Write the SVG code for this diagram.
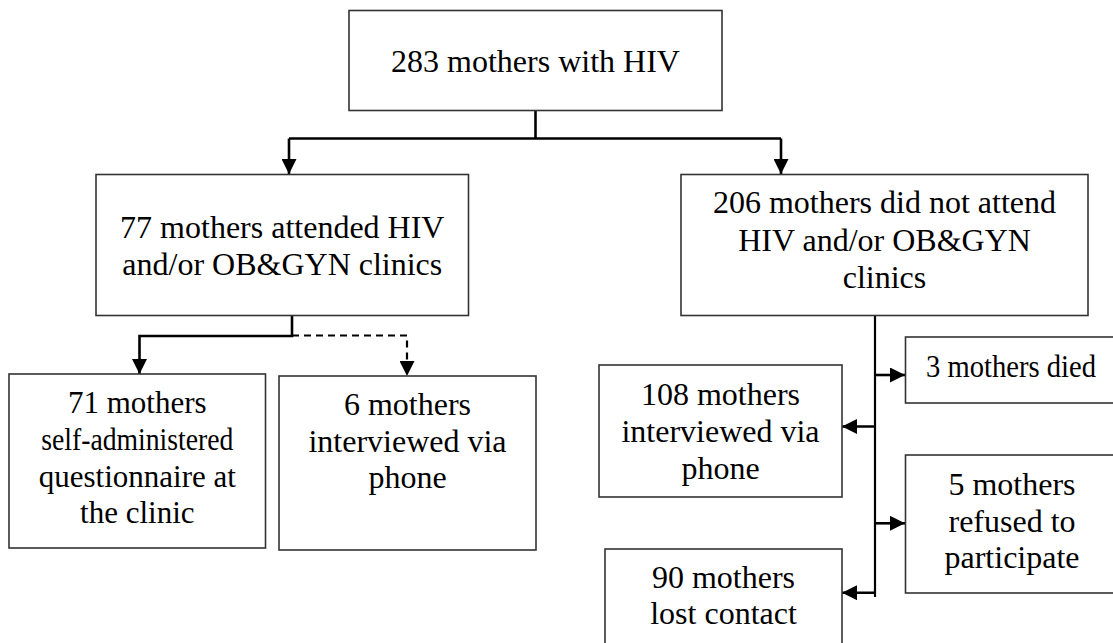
<svg xmlns="http://www.w3.org/2000/svg" width="1113" height="643" viewBox="0 0 1113 643">
<style>
.box{fill:#fff;stroke:#333;stroke-width:1.6}
.t{font-family:'Liberation Serif',Tinos,'Times New Roman','DejaVu Serif',serif;font-size:32px;fill:#000;text-anchor:middle}
.c{fill:none;stroke:#000;stroke-width:2.6}
.d{fill:none;stroke:#000;stroke-width:2.2;stroke-dasharray:7 5}
</style>
<defs>
<marker id="ah" viewBox="0 0 15 15" refX="15" refY="7.5" markerWidth="15" markerHeight="15" markerUnits="userSpaceOnUse" orient="auto">
<path d="M0,0 L15,7.5 L0,15 Z" fill="#000"/>
</marker>
</defs>
<rect width="1113" height="643" fill="#fff"/>
<g id="connectors">
<path class="c" d="M535.5,110.5 V138.5"/>
<path class="c" d="M289,138.5 H781"/>
<path class="c" d="M289,138.5 V174" marker-end="url(#ah)"/>
<path class="c" d="M781,138.5 V174" marker-end="url(#ah)"/>
<path class="c" d="M292,315.5 V336 H139.5 V374" marker-end="url(#ah)"/>
<path class="d" d="M292,335.5 H407 V376" marker-end="url(#ah)"/>
<path class="c" d="M875,315.5 V597" style="stroke-width:2.2"/>
<path class="c" d="M875,375 H905" marker-end="url(#ah)"/>
<path class="c" d="M875,426.5 H842" marker-end="url(#ah)"/>
<path class="c" d="M875,523.3 H905" marker-end="url(#ah)"/>
<path class="c" d="M875,592.7 H842" marker-end="url(#ah)"/>
</g>
<g font-family="Liberation Serif, serif">
<g id="n-total">
<rect class="box" x="349" y="10.5" width="373" height="100"/>
<text class="t" x="535.5" y="71.7">283 mothers with HIV</text>
</g>
<g id="n-attended">
<rect class="box" x="96" y="174.5" width="372.5" height="141"/>
<text class="t" x="282.3" y="237.7">77 mothers attended HIV</text>
<text class="t" x="282.3" y="275">and/or OB&amp;GYN clinics</text>
</g>
<g id="n-notattend">
<rect class="box" x="681" y="174.5" width="407" height="141"/>
<text class="t" x="884.5" y="213.3">206 mothers did not attend</text>
<text class="t" x="884.5" y="250.5">HIV and/or OB&amp;GYN</text>
<text class="t" x="884.5" y="287.5">clinics</text>
</g>
<g id="n-self">
<rect class="box" x="9" y="374" width="256.5" height="174"/>
<text class="t" x="137.3" y="413.3" style="font-size:31px">71 mothers</text>
<text class="t" x="137.3" y="450" style="font-size:31px" textLength="192" lengthAdjust="spacingAndGlyphs">self-administered</text>
<text class="t" x="137.3" y="486.7" style="font-size:31px">questionnaire at</text>
<text class="t" x="137.3" y="523.3" style="font-size:31px">the clinic</text>
</g>
<g id="n-phone6">
<rect class="box" x="279" y="376" width="257" height="174"/>
<text class="t" x="407.5" y="415">6 mothers</text>
<text class="t" x="407.5" y="451.7">interviewed via</text>
<text class="t" x="407.5" y="488.3">phone</text>
</g>
<g id="n-died">
<rect class="box" x="905.5" y="337" width="220" height="66"/>
<text class="t" x="1011" y="376.7" textLength="170" lengthAdjust="spacingAndGlyphs">3 mothers died</text>
</g>
<g id="n-phone108">
<rect class="box" x="599" y="365" width="243" height="132"/>
<text class="t" x="720.5" y="405">108 mothers</text>
<text class="t" x="720.5" y="442">interviewed via</text>
<text class="t" x="720.5" y="478.5">phone</text>
</g>
<g id="n-refused">
<rect class="box" x="905.5" y="455" width="220" height="138"/>
<text class="t" x="1012" y="495">5 mothers</text>
<text class="t" x="1012" y="531.7">refused to</text>
<text class="t" x="1012" y="568.3">participate</text>
</g>
<g id="n-lost">
<rect class="box" x="605" y="549" width="237" height="110"/>
<text class="t" x="723.5" y="588.3">90 mothers</text>
<text class="t" x="723.5" y="624.3">lost contact</text>
</g>
</g>
</svg>
